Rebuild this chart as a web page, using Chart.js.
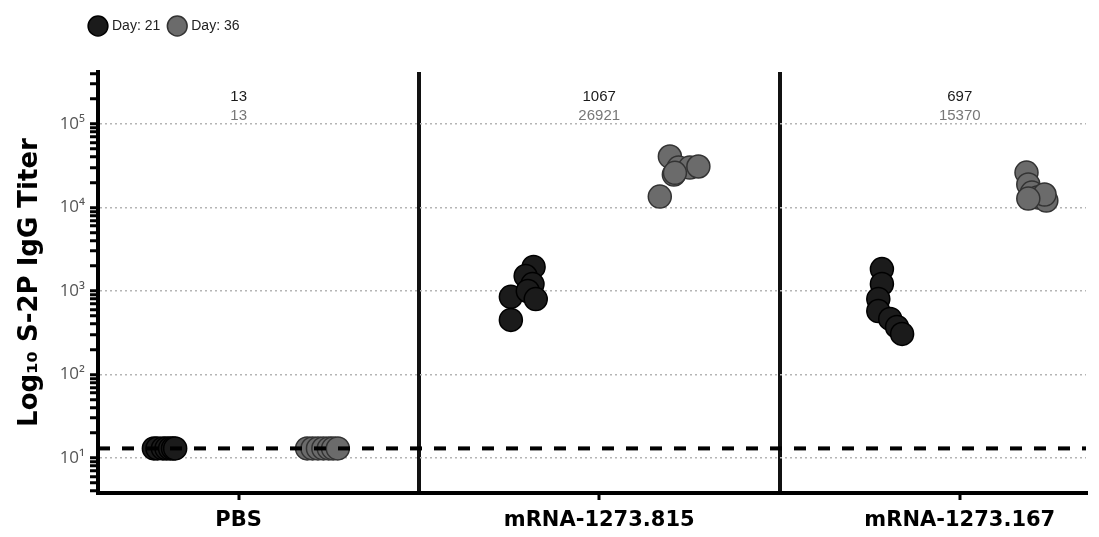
<!DOCTYPE html>
<html>
<head>
<meta charset="utf-8">
<script src="https://cdn.jsdelivr.net/npm/chart.js@4/dist/chart.umd.min.js"></script>
<style>
  html, body { margin: 0; padding: 0; background: #fff; }
  #wrap { width: 1099px; height: 537px; }
</style>
</head>
<body>
<div id="wrap"><canvas id="chart" width="1099" height="537"></canvas></div>
<script>
const categories = ['PBS', 'mRNA-1273.815', 'mRNA-1273.167'];
const gmtDay21 = [13, 1067, 697];
const gmtDay36 = [13, 26921, 15370];
const lod = 13;

// per-animal titers for each group, and the horizontal jitter used in the plot
const day21Titers = [
  [13, 13, 13, 13, 13, 13, 13],
  [850, 450, 1940, 1510, 1210, 1000, 800],
  [1830, 1213, 802, 575, 463, 371, 306]
];
const day21Jitter = [
  [-0.235, -0.225, -0.21, -0.2, -0.19, -0.182, -0.176],
  [-0.245, -0.245, -0.182, -0.204, -0.185, -0.198, -0.176],
  [-0.216, -0.216, -0.226, -0.226, -0.193, -0.174, -0.16]
];
const day36Titers = [
  [13, 13, 13, 13, 13, 13, 13],
  [40800, 30100, 24800, 30100, 31000, 13500, 26000],
  [26200, 18900, 15100, 13200, 12100, 14300, 12800]
];
const day36Jitter = [
  [0.19, 0.205, 0.22, 0.235, 0.25, 0.262, 0.275],
  [0.196, 0.22, 0.207, 0.251, 0.275, 0.168, 0.21],
  [0.185, 0.19, 0.2, 0.215, 0.24, 0.235, 0.19]
];

const xMin = -0.39, xMax = 2.35;
const yMin = 3.8, yMax = 420000;

function points(titers, jitter) {
  const out = [];
  titers.forEach((group, i) => {
    group.forEach((v, j) => out.push({ x: i + jitter[i][j], y: v }));
  });
  return out;
}

const supers = { '1': '\u00b9', '2': '\u00b2', '3': '\u00b3', '4': '\u2074', '5': '\u2075' };
const isDecade = v => Math.abs(Math.log10(v) - Math.round(Math.log10(v))) < 1e-9;

// log ticks: decades labelled, the rest are minor marks
function logTicks() {
  const ticks = [];
  for (let e = 0; e <= 5; e++) {
    for (let m = 1; m <= 9; m++) {
      const v = m * Math.pow(10, e);
      if (v >= yMin && v <= yMax) ticks.push({ value: v });
    }
  }
  return ticks;
}

// geometric mean titers written over each group
const gmtLabels = {
  id: 'gmtLabels',
  afterDatasetsDraw(chart) {
    const { ctx, chartArea, scales } = chart;
    ctx.save();
    ctx.textAlign = 'center';
    ctx.textBaseline = 'middle';
    categories.forEach((c, i) => {
      const x = scales.x.getPixelForValue(i);
      ctx.font = '500 15px "Liberation Sans Narrow", "Liberation Sans", Arial, sans-serif';
      ctx.fillStyle = '#1a1a1a';
      ctx.fillText(String(gmtDay21[i]), x, chartArea.top + 25);
      ctx.font = '15px "Liberation Sans Narrow", "Liberation Sans", Arial, sans-serif';
      ctx.fillStyle = '#777';
      ctx.fillText(String(gmtDay36[i]), x, chartArea.top + 44);
    });
    ctx.restore();
  }
};

// make room under the legend and move it right, like the original figure
const legendPlace = {
  id: 'legendPlace',
  beforeInit(chart) {
    const fit = chart.legend.fit;
    chart.legend.fit = function () {
      fit.bind(chart.legend)();
      this.height += 29;
    };
  },
  afterLayout(chart) {
    chart.legend.left += 81;
    chart.legend.right += 81;
  }
};

new Chart(document.getElementById('chart'), {
  type: 'scatter',
  data: {
    datasets: [
      {
        type: 'line',
        label: 'LOD',
        data: [{ x: xMin, y: lod }, { x: xMax, y: lod }],
        borderColor: '#000',
        borderWidth: 4,
        borderDash: [12, 12],
        pointRadius: 0,
        order: 0
      },
      {
        label: 'Day: 21',
        data: points(day21Titers, day21Jitter),
        backgroundColor: '#1b1b1b',
        borderColor: '#000',
        borderWidth: 1.5,
        pointRadius: 11.5,
        order: 1
      },
      {
        label: 'Day: 36',
        data: points(day36Titers, day36Jitter),
        backgroundColor: '#6b6b6b',
        borderColor: '#333',
        borderWidth: 1.5,
        pointRadius: 11.5,
        order: 2
      }
    ]
  },
  options: {
    responsive: false,
    animation: false,
    layout: { padding: { top: 9, right: 7, bottom: 0, left: 0 } },
    plugins: {
      tooltip: { enabled: false },
      legend: {
        position: 'top',
        align: 'start',
        labels: {
          usePointStyle: true,
          pointStyle: 'circle',
          padding: 10,
          color: '#222',
          font: { family: '"Liberation Sans", Arial, sans-serif', size: 14 },
          filter: item => item.text !== 'LOD'
        }
      }
    },
    scales: {
      x: {
        type: 'linear',
        min: xMin,
        max: xMax,
        afterBuildTicks: scale => {
          scale.ticks = [0, 0.5, 1, 1.5, 2].map(v => ({ value: v }));
        },
        afterFit: scale => { scale.height = 44; },
        ticks: {
          autoSkip: false,
          maxRotation: 0,
          padding: 8,
          color: '#000',
          font: { family: '"DejaVu Sans", sans-serif', size: 21, weight: 'bold' },
          callback: v => Number.isInteger(v) ? categories[v] : ''
        },
        grid: {
          color: c => (c.tick && !Number.isInteger(c.tick.value)) ? '#111' : 'rgba(0,0,0,0)',
          lineWidth: 4,
          tickColor: c => (c.tick && Number.isInteger(c.tick.value)) ? '#000' : 'rgba(0,0,0,0)',
          tickLength: 7,
          tickWidth: 3
        },
        border: { display: true, color: '#000', width: 4 }
      },
      y: {
        type: 'logarithmic',
        min: yMin,
        max: yMax,
        afterBuildTicks: scale => { scale.ticks = logTicks(); },
        afterFit: scale => { scale.width = 98; },
        ticks: {
          autoSkip: false,
          padding: 5,
          color: '#555',
          font: { family: '"Open Sans", sans-serif', size: 17 },
          callback: v => isDecade(v) ? '10' + supers[String(Math.round(Math.log10(v)))] : ''
        },
        grid: {
          color: c => (c.tick && isDecade(c.tick.value)) ? '#b5b5b5' : 'rgba(0,0,0,0)',
          lineWidth: 1.5,
          tickColor: '#000',
          tickLength: 8,
          tickWidth: 3
        },
        border: { display: true, color: '#000', width: 4, dash: [2, 3] },
        title: {
          display: true,
          text: 'Log\u2081\u2080 S-2P IgG Titer',
          color: '#000',
          padding: { top: 15, bottom: 0 },
          font: { family: '"DejaVu Sans", sans-serif', size: 26, weight: 'bold' }
        }
      }
    }
  },
  plugins: [gmtLabels, legendPlace]
});
</script>
</body>
</html>
